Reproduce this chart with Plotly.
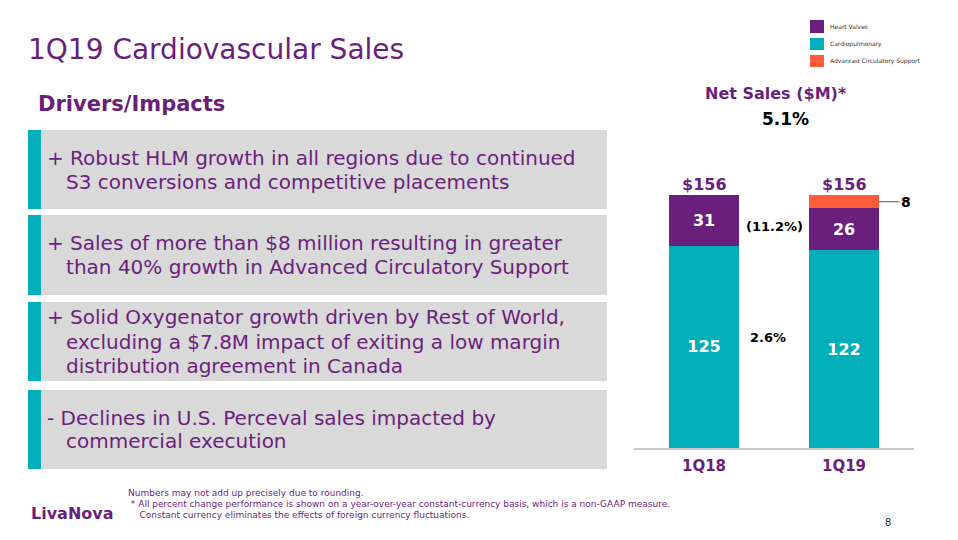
import plotly.graph_objects as go

# ---- data ----
quarters = ["1Q18", "1Q19"]
cardiopulmonary = [125, 122]
heart_valves = [31, 26]
acs = [0, 8]
totals = ["$156", "$156"]
growth_hv = "(11.2%)"
growth_cp = "2.6%"
growth_total = "5.1%"
legend_names = ["Heart Valves", "Cardiopulmonary", "Advanced Circulatory Support"]
bullets = [
    ["+ Robust HLM growth in all regions due to continued",
     "   S3 conversions and competitive placements"],
    ["+ Sales of more than $8 million resulting in greater",
     "   than 40% growth in Advanced Circulatory Support"],
    ["+ Solid Oxygenator growth driven by Rest of World,",
     "   excluding a $7.8M impact of exiting a low margin",
     "   distribution agreement in Canada"],
    ["- Declines in U.S. Perceval sales impacted by",
     "   commercial execution"],
]
footnotes = [
    "Numbers may not add up precisely due to rounding.",
    " * All percent change performance is shown on a year-over-year constant-currency basis, which is a non-GAAP measure.",
    "    Constant currency eliminates the effects of foreign currency fluctuations.",
]

PURPLE = "#6B1F7C"
TEAL = "#00AFB9"
ORANGE = "#FF5C39"
FONT = "DejaVu Sans"
W, H = 958, 540


def px(x):
    return x / W


def py(y):
    return 1 - y / H


fig = go.Figure()
fig.add_trace(go.Bar(
    x=quarters, y=cardiopulmonary, name="Cardiopulmonary",
    marker=dict(color=TEAL, line=dict(width=0)),
    text=[f"<b>{v}</b>" for v in cardiopulmonary], textposition="inside",
    insidetextanchor="middle", textfont=dict(color="white", size=16, family=FONT),
    constraintext="none",
))
fig.add_trace(go.Bar(
    x=quarters, y=heart_valves, name="Heart Valves",
    marker=dict(color=PURPLE, line=dict(width=0)),
    text=[f"<b>{v}</b>" for v in heart_valves], textposition="inside",
    insidetextanchor="middle", textfont=dict(color="white", size=16, family=FONT),
    constraintext="none",
))
fig.add_trace(go.Bar(
    x=quarters, y=acs, name="Advanced Circulatory Support",
    marker=dict(color=ORANGE, line=dict(width=0)),
    textposition="none",
))

ann = []
shapes = []


def text_at(x, y, text, size, color, xanchor="center", bold=False):
    ann.append(dict(x=px(x), y=py(y), xref="paper", yref="paper",
                    text=f"<b>{text}</b>" if bold else text,
                    showarrow=False, xanchor=xanchor, yanchor="middle", align="left",
                    font=dict(color=color, size=size, family=FONT)))


# totals above bars
for q, c, h, a, t in zip(quarters, cardiopulmonary, heart_valves, acs, totals):
    ann.append(dict(x=q, y=c + h + a, xref="x", yref="y", text=f"<b>{t}</b>",
                    showarrow=False, xanchor="center", yanchor="bottom", yshift=-1,
                    font=dict(color=PURPLE, size=16, family=FONT)))
# ACS label with leader line
ann.append(dict(x=1.25, y=cardiopulmonary[1] + heart_valves[1] + acs[1] / 2, xref="x", yref="y",
                text="<b>8</b>", showarrow=True, arrowhead=0, arrowwidth=1.2,
                arrowcolor="#555555", ax=27, ay=0,
                font=dict(color="black", size=14, family=FONT)))
# growth labels
ann.append(dict(x=0.5, y=cardiopulmonary[0] + 12, xref="x", yref="y", text=f"<b>{growth_hv}</b>",
                showarrow=False, xanchor="center", yanchor="middle",
                font=dict(color="black", size=13, family=FONT)))
ann.append(dict(x=0.457, y=68, xref="x", yref="y", text=f"<b>{growth_cp}</b>",
                showarrow=False, xanchor="center", yanchor="middle",
                font=dict(color="black", size=13, family=FONT)))

# headings
text_at(776, 94, "Net Sales ($M)*", 16, PURPLE, bold=True)
text_at(785, 119, growth_total, 17, "black", bold=True)
text_at(26, 50, "1Q19 Cardiovascular Sales", 28, PURPLE, xanchor="left")
text_at(36, 104, "Drivers/Impacts", 21, PURPLE, xanchor="left", bold=True)

# manual legend (squares + labels)
leg_rows = [(20, 33, PURPLE), (38, 50, TEAL), (55, 67, ORANGE)]
for (t, b, col), name in zip(leg_rows, legend_names):
    shapes.append(dict(type="rect", xref="paper", yref="paper", x0=px(810), x1=px(824),
                       y0=py(b), y1=py(t), fillcolor=col, line=dict(width=0)))
    text_at(828, (t + b) / 2, name, 6, "#333333", xanchor="left")

# boxes with bullet text
boxes = [(130, 209), (215, 295), (302, 381), (390, 469)]
LINE = 24
for (t, b), lines in zip(boxes, bullets):
    shapes.append(dict(type="rect", xref="paper", yref="paper", x0=px(41), x1=px(607),
                       y0=py(b), y1=py(t), fillcolor="#D9D9D9", line=dict(width=0), layer="below"))
    shapes.append(dict(type="rect", xref="paper", yref="paper", x0=px(28), x1=px(41),
                       y0=py(b), y1=py(t), fillcolor=TEAL, line=dict(width=0), layer="below"))
    mid = (t + b) / 2
    n = len(lines)
    for i, ln in enumerate(lines):
        yy = mid + (i - (n - 1) / 2) * LINE
        text_at(45, yy, ln.replace(" ", "&nbsp;") if ln.startswith(" ") else ln, 20, PURPLE, xanchor="left")

# footnotes
for i, ln in enumerate(footnotes):
    text_at(126, 493 + i * 11, ln.replace("  ", "&nbsp;&nbsp;"), 9, PURPLE, xanchor="left")
text_at(29, 513, "LivaNova", 16, PURPLE, xanchor="left", bold=True)
text_at(888, 522, "8", 10, "#333333")

fig.update_layout(
    width=W, height=H, margin=dict(l=0, r=0, t=0, b=0),
    paper_bgcolor="white", plot_bgcolor="white",
    barmode="stack", bargap=0.5, showlegend=False,
    font=dict(family=FONT),
    xaxis=dict(domain=[px(634), px(914)], range=[-0.5, 1.5], showgrid=False,
               showline=True, linecolor="#C8C8C8", linewidth=2, ticks="",
               tickvals=quarters, ticktext=[f"<b>{q}</b>" for q in quarters],
               tickfont=dict(color=PURPLE, size=15, family=FONT), ticklabelstandoff=3),
    yaxis=dict(domain=[(540 - 448) / 540, (540 - 156.4) / 540], range=[0, 180],
               visible=False, showgrid=False),
    shapes=shapes, annotations=ann,
)

fig.write_html("out.html")
